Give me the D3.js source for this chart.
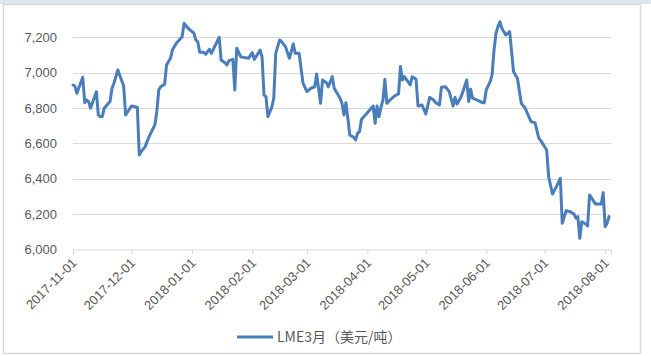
<!DOCTYPE html>
<html>
<head>
<meta charset="utf-8">
<script src="https://cdn.jsdelivr.net/npm/d3@7"></script>
<style>
  html, body { margin: 0; padding: 0; background: #fff; }
  svg { display: block; font-family: "Liberation Sans", "Noto Sans CJK SC", sans-serif; }
</style>
</head>
<body>
<svg id="chart" width="651" height="356"></svg>
<script>
// --- Données : LME 3 mois (USD/t) ---
const dates = [
  "2017-11-01","2017-11-02","2017-11-03","2017-11-06","2017-11-07","2017-11-08","2017-11-09","2017-11-10",
  "2017-11-13","2017-11-14","2017-11-15","2017-11-16","2017-11-17","2017-11-20","2017-11-21","2017-11-22",
  "2017-11-24","2017-11-27","2017-11-28","2017-12-01","2017-12-04","2017-12-05","2017-12-06","2017-12-08",
  "2017-12-10","2017-12-13","2017-12-14","2017-12-15","2017-12-16","2017-12-18","2017-12-19","2017-12-21",
  "2017-12-22","2017-12-24","2017-12-27","2017-12-28","2017-12-30","2018-01-02","2018-01-03","2018-01-04",
  "2018-01-05","2018-01-07","2018-01-08","2018-01-10","2018-01-11","2018-01-15","2018-01-16","2018-01-18",
  "2018-01-19","2018-01-20","2018-01-22","2018-01-23","2018-01-24","2018-01-26","2018-01-28","2018-01-30",
  "2018-02-01","2018-02-02","2018-02-05","2018-02-06","2018-02-07","2018-02-08","2018-02-09","2018-02-11",
  "2018-02-12","2018-02-13","2018-02-15","2018-02-16","2018-02-18","2018-02-20","2018-02-22","2018-02-23",
  "2018-02-25","2018-02-27","2018-03-01","2018-03-03","2018-03-05","2018-03-06","2018-03-08","2018-03-09",
  "2018-03-11","2018-03-12","2018-03-14","2018-03-15","2018-03-18","2018-03-19","2018-03-20","2018-03-21",
  "2018-03-22","2018-03-23","2018-03-25","2018-03-26","2018-03-27","2018-03-28","2018-03-29","2018-03-31",
  "2018-04-03","2018-04-04","2018-04-05","2018-04-06","2018-04-07","2018-04-08","2018-04-09","2018-04-10",
  "2018-04-11","2018-04-13","2018-04-15","2018-04-17","2018-04-18","2018-04-19","2018-04-20","2018-04-23",
  "2018-04-24","2018-04-26","2018-04-27","2018-04-29","2018-05-01","2018-05-03","2018-05-05","2018-05-06",
  "2018-05-08","2018-05-09","2018-05-11","2018-05-13","2018-05-15","2018-05-16","2018-05-17","2018-05-19",
  "2018-05-20","2018-05-22","2018-05-23","2018-05-24","2018-05-25","2018-05-28","2018-05-30","2018-05-31",
  "2018-06-01","2018-06-03","2018-06-04","2018-06-05","2018-06-06","2018-06-07","2018-06-08","2018-06-09",
  "2018-06-11","2018-06-13","2018-06-15","2018-06-17","2018-06-19","2018-06-21","2018-06-24","2018-06-26",
  "2018-06-28","2018-06-29","2018-07-02","2018-07-03","2018-07-05","2018-07-07","2018-07-09","2018-07-10",
  "2018-07-12","2018-07-14","2018-07-16","2018-07-17","2018-07-18","2018-07-19","2018-07-20","2018-07-22",
  "2018-07-23","2018-07-24","2018-07-27","2018-07-30","2018-07-31","2018-08-01","2018-08-02","2018-08-03"
];
const lme3m = [
  6930,6924,6883,6974,6830,6845,6836,6798,
  6892,6760,6751,6751,6798,6836,6911,6940,
  7015,6924,6760,6811,6804,6534,6553,6581,
  6637,6704,6779,6902,6920,6934,7043,7081,
  7128,7166,7203,7279,7251,7223,7185,7175,
  7115,7115,7104,7132,7109,7200,7071,7056,
  7043,7068,7075,6902,7138,7090,7085,7081,
  7113,7075,7128,7087,6873,6864,6751,6804,
  6855,7109,7185,7175,7147,7081,7162,7109,
  7109,6940,6892,6911,6920,6992,6826,6958,
  6943,6920,6977,6911,6855,6826,6760,6830,
  6742,6647,6634,6619,6657,6666,6736,6760,
  6798,6811,6713,6811,6751,6804,6845,6962,
  6826,6849,6868,6879,7034,6958,6977,6930,
  6977,6962,6811,6817,6766,6860,6845,6830,
  6817,6917,6920,6892,6811,6860,6822,6860,
  6892,6958,6836,6906,6855,6841,6830,6830,
  6902,6949,6987,7128,7223,7260,7288,7251,
  7213,7232,7005,6968,6826,6798,6722,6717,
  6628,6615,6562,6411,6313,6355,6402,6147,
  6219,6213,6200,6176,6185,6062,6156,6143,
  6132,6308,6257,6257,6321,6128,6147,6185
];
const yTicks = [6000, 6200, 6400, 6600, 6800, 7000, 7200];
const xTicks = ["2017-11-01","2017-12-01","2018-01-01","2018-02-01","2018-03-01",
                "2018-04-01","2018-05-01","2018-06-01","2018-07-01","2018-08-01"];
const seriesName = "LME3月（美元/吨）";

const parse = d3.timeParse("%Y-%m-%d");
const data = dates.map((d, i) => ({ date: parse(d), value: lme3m[i] }));

const svg = d3.select("#chart");
const W = 651, H = 356;

// cadre du graphique
svg.append("rect").attr("x", 0).attr("y", 0).attr("width", W).attr("height", 4).attr("fill", "#dce6f0");
svg.append("rect").attr("x", 3.5).attr("y", 4.5).attr("width", 637).attr("height", 349)
  .attr("fill", "#fff").attr("stroke", "#d9d9d9").attr("stroke-width", 1.5);

const x = d3.scaleTime()
  .domain([parse("2017-11-01"), parse("2018-08-04")])
  .range([73, 611]);
const y = d3.scaleLinear().domain([6000, 7300]).range([249.3, 19.6]);

// grille horizontale
svg.append("g").selectAll("line")
  .data(yTicks.filter(t => t > 6000))
  .join("line")
  .attr("x1", x.range()[0]).attr("x2", x.range()[1])
  .attr("y1", d => Math.round(y(d)) + 0.5).attr("y2", d => Math.round(y(d)) + 0.5)
  .attr("stroke", "#d9d9d9").attr("stroke-width", 1.2);

// axe Y (étiquettes seulement)
const yAxis = svg.append("g")
  .attr("transform", `translate(${x.range()[0]},0)`)
  .call(d3.axisLeft(y).tickValues(yTicks).tickFormat(d3.format(",")).tickSize(0).tickPadding(16));
yAxis.select(".domain").remove();
yAxis.selectAll("text").attr("fill", "#595959").style("font-size", "13px");

// axe X
const xAxis = svg.append("g")
  .attr("transform", `translate(0,${Math.round(y(6000)) + 0.5})`)
  .call(d3.axisBottom(x).tickValues(xTicks.map(parse)).tickFormat(d3.timeFormat("%Y-%m-%d")).tickSizeOuter(0).tickSize(5));
xAxis.select(".domain").attr("stroke", "#d9d9d9").attr("stroke-width", 1.2);
xAxis.selectAll(".tick line").attr("stroke", "#d9d9d9");
xAxis.selectAll("text")
  .attr("fill", "#595959").style("font-size", "13px")
  .attr("text-anchor", "end")
  .attr("dy", "0.35em")
  .attr("transform", "translate(1,11) rotate(-45)")
  .attr("y", 0).attr("x", 0);

// courbe
const line = d3.line().x(d => x(d.date)).y(d => y(d.value));
svg.append("path")
  .datum(data)
  .attr("fill", "none")
  .attr("stroke", "#4a7ebb")
  .attr("stroke-width", 3)
  .attr("stroke-linejoin", "round")
  .attr("stroke-linecap", "round")
  .attr("d", line);

// légende
const legend = svg.append("g").attr("transform", "translate(237,337)");
legend.append("line").attr("x1", 0).attr("x2", 36).attr("y1", 0).attr("y2", 0)
  .attr("stroke", "#4a7ebb").attr("stroke-width", 3);
legend.append("text").attr("x", 40).attr("y", 0).attr("dy", "0.35em")
  .attr("fill", "#595959").style("font-size", "14px")
  .style("font-family", "'Noto Sans CJK SC', sans-serif")
  .text(seriesName);
</script>
</body>
</html>
